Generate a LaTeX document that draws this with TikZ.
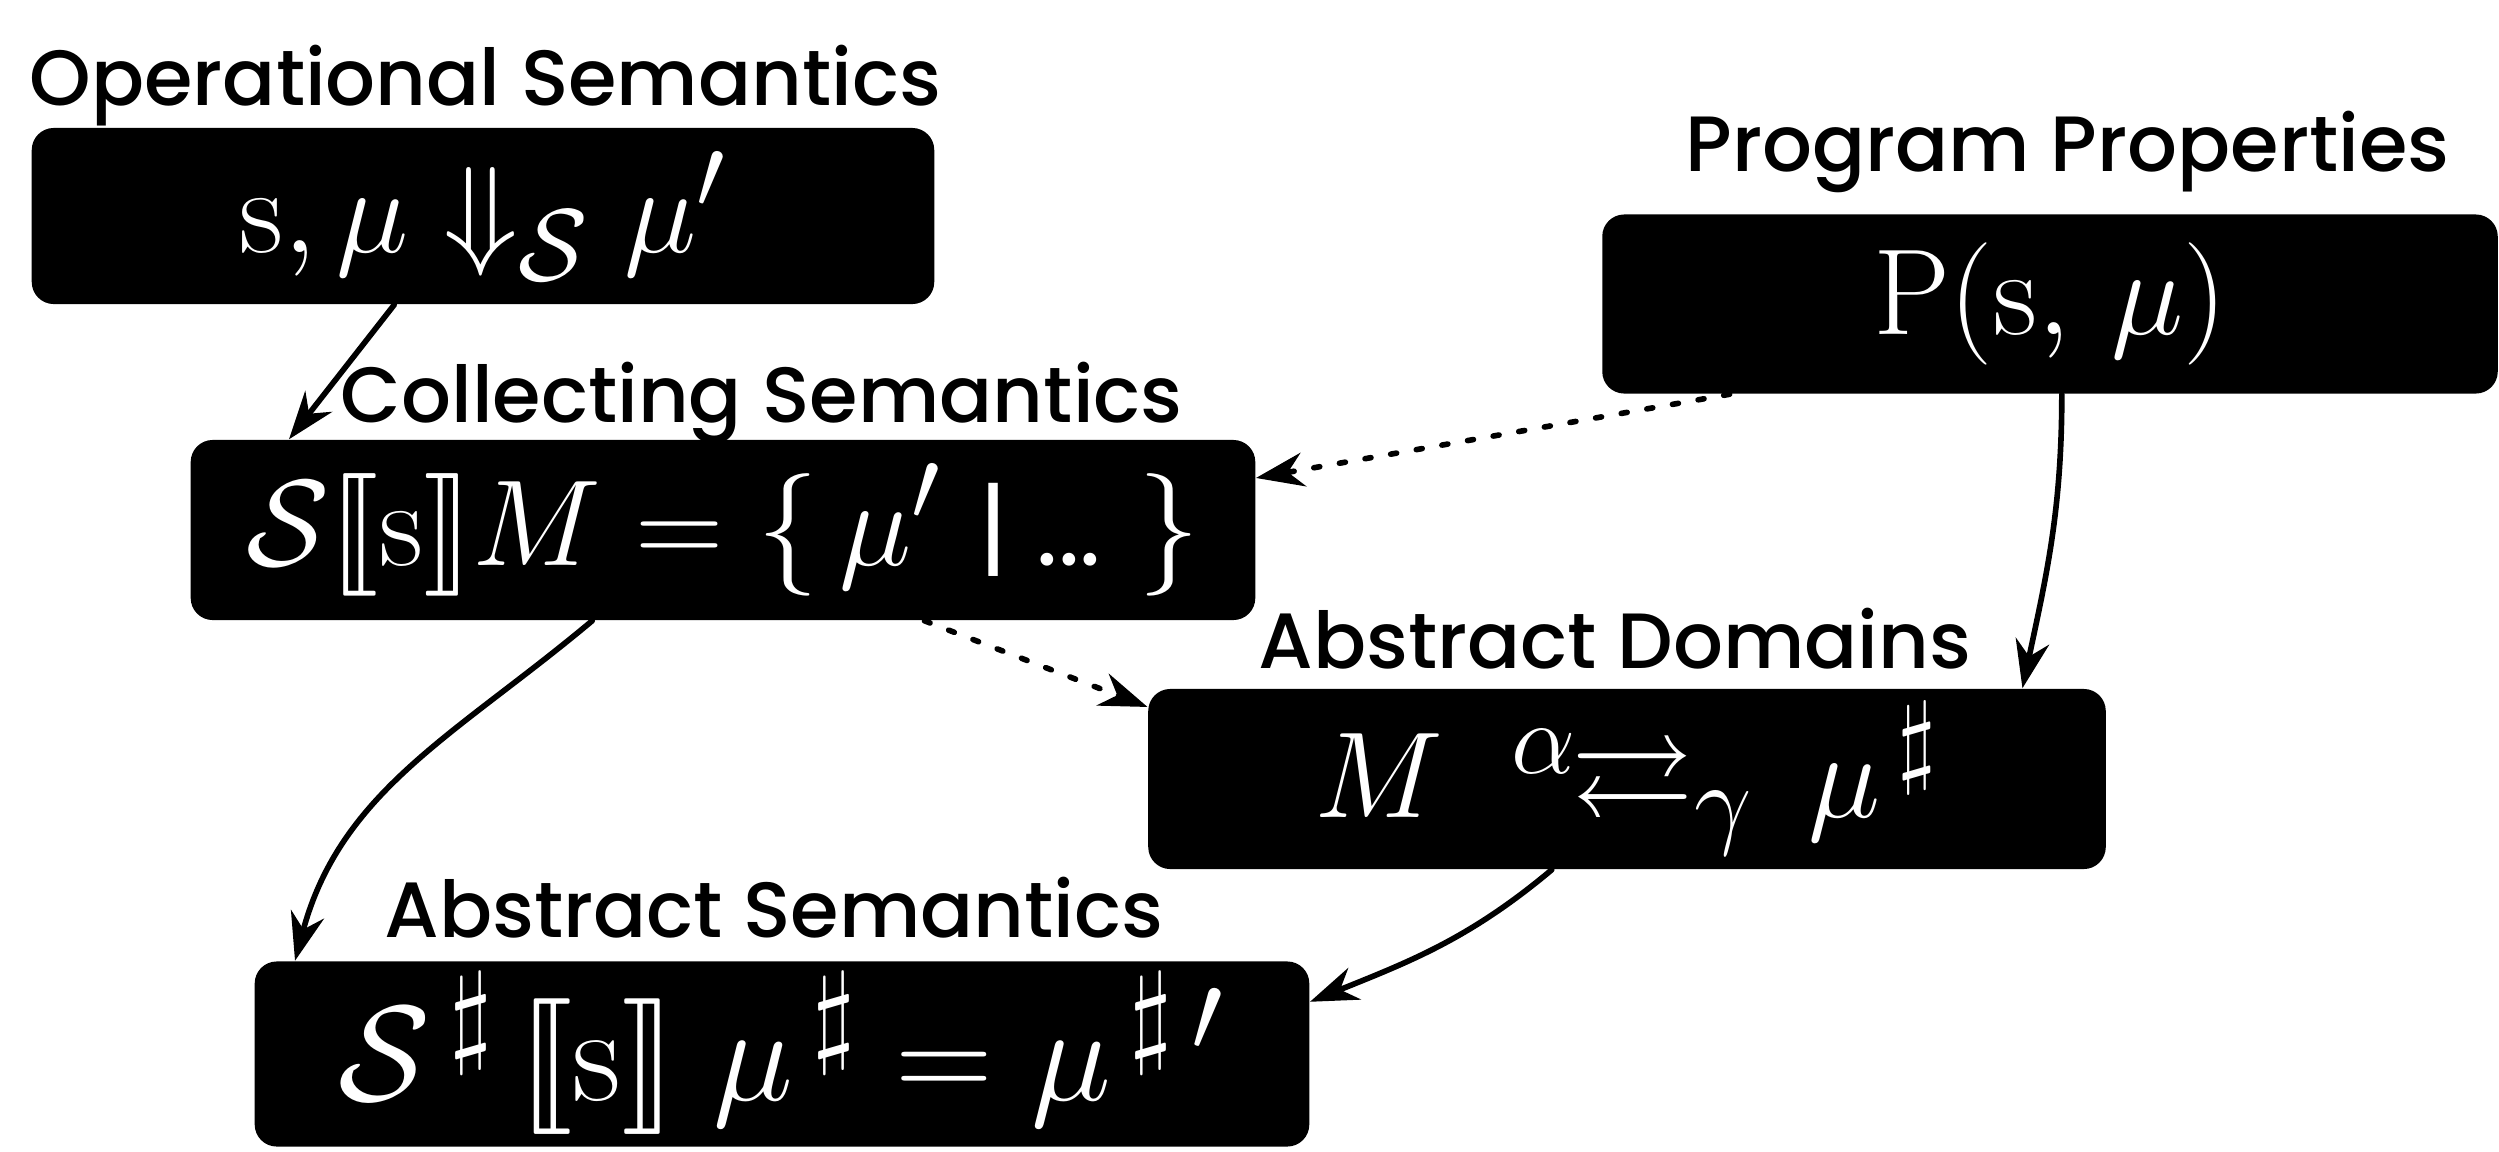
\documentclass[tikz,border=0pt]{standalone}
\usepackage{amsmath,amssymb,stmaryrd}
\usepackage{fontspec}
\newfontfamily\headfont{Poppins}[UprightFont=* Medium]
\newfontfamily\barfont{Poppins}
\newcommand{\bigmath}[1]{\scalebox{1.4}{$#1$}}
\usetikzlibrary{arrows.meta}
\tikzset{
  every picture/.style={line join=round, line cap=round, >=Stealth},
  formula/.style={fill=black, text=white, rounded corners=0.22cm, inner sep=0pt,
    font=\fontsize{24.88}{30}\selectfont},
  title/.style={anchor=base west, inner sep=0pt, font=\headfont\fontsize{22.3}{27}\selectfont},
  link/.style={->, line width=1.6pt, >={Stealth[length=0.48cm,width=0.34cm]}},
  hint/.style={link, dash pattern=on 0.06cm off 0.2cm},
}

\begin{document}
\begin{tikzpicture}[x=0.01cm,y=-0.01cm]
\useasboundingbox (0,0) rectangle (2499,1151);
% boxes
\node[formula, minimum width=9.02cm, minimum height=1.76cm] (opsem) at (483,216)
  {\bigmath{\mathrm{s},\mu \Downarrow_{\mathcal{S}} \mu'}};
\node[formula, minimum width=8.95cm, minimum height=1.79cm] (props) at (2050,304)
  {\bigmath{\mathrm{P}(\mathrm{s},\,\mu)}};
\node[formula, minimum width=10.64cm, minimum height=1.8cm] (colsem) at (723,530)
  {\bigmath{\mathcal{S}\llbracket\mathrm{s}\rrbracket M = \{\,\mu' \text{ \barfont\fontsize{21}{21}\selectfont| ... }\}}};
\node[formula, minimum width=9.57cm, minimum height=1.8cm] (absdom) at (1627,779)
  {\bigmath{M \;\;{}^{\alpha}\!\!\rightleftarrows_{\gamma}\, \mu^{\,\sharp}}};
\node[formula, minimum width=10.54cm, minimum height=1.85cm] (abssem) at (782,1054)
  {\scalebox{1.55}{$\mathcal{S}^{\,\sharp}\,\llbracket\mathrm{s}\rrbracket\; \mu^{\,\sharp} = \mu^{\,\sharp\,\prime}$}};
% titles
\node[title] (opsemtitle) at (29,105) {Operational Semantics};
\node[title] (propstitle) at (1685,171) {Program Properties};
\node[title] (colsemtitle) at (340,422) {Collecting Semantics};
\node[title] (absdomtitle) at (1258,668) {Abstract Domains};
\node[title] (abssemtitle) at (384,937) {Abstract Semantics};
% arrows
\draw[link] (opsem.-135) -- ([xshift=0.99cm]colsem.north west);
\draw[hint] ([xshift=1.28cm]props.south west) -- ([yshift=0.52cm]colsem.east);
\draw[link] ([xshift=4.6cm]props.south west) to[out=-90,in=78] ([xshift=-0.84cm]absdom.north east);
\draw[hint] ([xshift=7.34cm]colsem.south west) -- ([yshift=0.72cm]absdom.west);
\draw[link] ([xshift=4.02cm]colsem.south west) to[out=-140,in=75] ([xshift=0.41cm]abssem.north west);
\draw[link] ([xshift=4.04cm]absdom.south west) to[out=-140,in=22] ([yshift=-0.41cm]abssem.north east);
\end{tikzpicture}
\end{document}
